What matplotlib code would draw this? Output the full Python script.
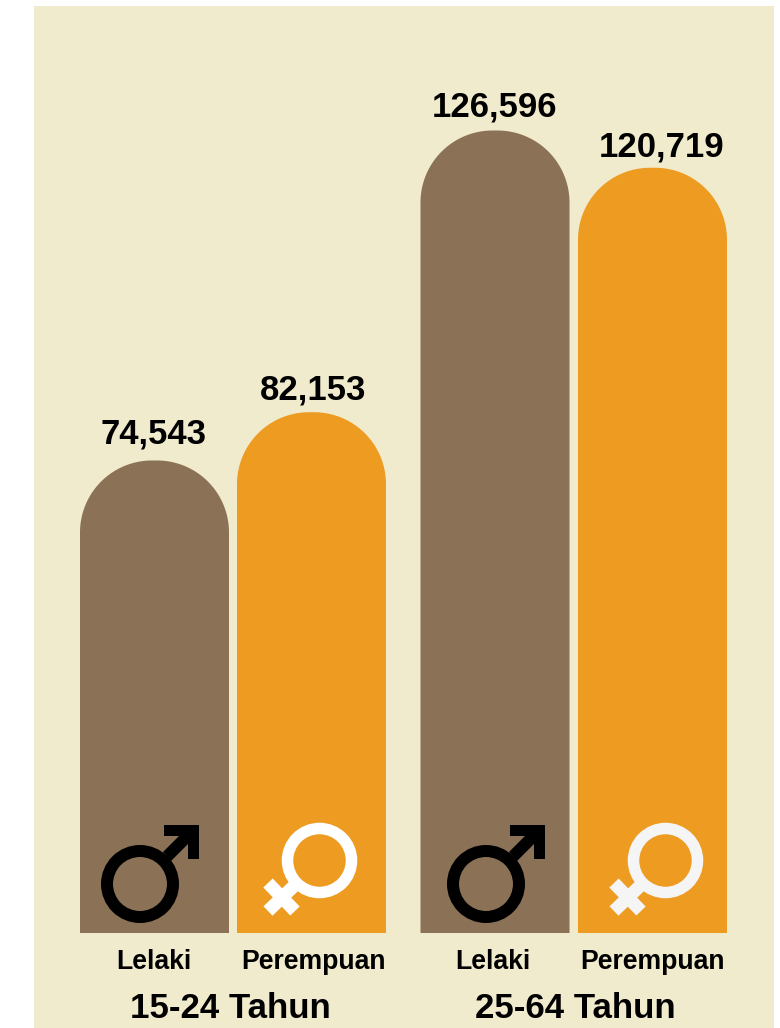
import numpy as np
import matplotlib
matplotlib.use('Agg')
import matplotlib.pyplot as plt
from matplotlib.patches import Circle, PathPatch, Polygon, Rectangle
from matplotlib.path import Path

# ========== data ==========
groups = ['15-24 Tahun', '25-64 Tahun']
categories = ['Lelaki', 'Perempuan', 'Lelaki', 'Perempuan']
values = [74543, 82153, 126596, 120719]
value_labels = ['74,543', '82,153', '126,596', '120,719']

# ========== layout (pixels) ==========
W, H = 780, 1028
bar_left = [80, 237, 420.5, 578]
bar_width = 149
base_px = 933
px_per_unit = 802.5 / 126596
radius = 72
bar_colors = ['#8b7155', '#ee9b22', '#8b7155', '#ee9b22']
label_x = [153.5, 313, 494, 662]
label_gap = [16.5, 12.5, 14, 11.5]
cat_x = [154, 313.5, 492.5, 652.5]
group_x = [230.5, 575.5]
icon_dx = [0, 346]
female_colors = ['#ffffff', '#f5f5f5']

plt.rcParams['font.family'] = ['Liberation Sans', 'DejaVu Sans']
plt.rcParams['font.weight'] = 'bold'

fig = plt.figure(figsize=(W / 100, H / 100), dpi=100, facecolor='white')

# overlay in pixel coords for the panel, text and icons
pix = fig.add_axes([0, 0, 1, 1], zorder=1)
pix.set_xlim(0, W)
pix.set_ylim(H, 0)
pix.axis('off')
pix.add_patch(Rectangle((34, 6), 740, 1022, color='#f1ebcd', lw=0))

# value axis, y=0 sits on the bar baseline
ax = fig.add_axes([0, 0, 1, 1], zorder=2)
ax.set_xlim(0, W)
ax.set_ylim(-(H - base_px) / px_per_unit, base_px / px_per_unit)
ax.axis('off')
ax.patch.set_alpha(0)


def round_top_bar(x0, w, val, r):
    ry = r / px_per_unit
    t = np.linspace(np.pi, np.pi / 2, 40)
    left_x = x0 + r + r * np.cos(t)
    left_y = val - ry + ry * np.sin(t)
    right_x = x0 + w - r - r * np.cos(t[::-1])
    right_y = val - ry + ry * np.sin(t[::-1])
    xs = np.concatenate([[x0], left_x, right_x, [x0 + w, x0]])
    ys = np.concatenate([[0], left_y, right_y, [0, 0]])
    return Path(np.column_stack([xs, ys]), closed=True)


for i in range(len(values)):
    ax.add_patch(PathPatch(round_top_bar(bar_left[i], bar_width, values[i], radius),
                           facecolor=bar_colors[i], edgecolor='none'))
    top_px = base_px - values[i] * px_per_unit
    pix.text(label_x[i], top_px - label_gap[i], value_labels[i], fontsize=25,
             ha='center', va='baseline', color='black', zorder=5)
    pix.text(cat_x[i], 969, categories[i], fontsize=19.2,
             ha='center', va='baseline', color='black', zorder=5)

for i in range(len(groups)):
    pix.text(group_x[i], 1018, groups[i], fontsize=25.1,
             ha='center', va='baseline', color='black', zorder=5)


# ========== gender icons ==========
icons = fig.add_axes([0, 0, 1, 1], zorder=3)
icons.set_xlim(0, W)
icons.set_ylim(H, 0)
icons.axis('off')
icons.patch.set_alpha(0)


def male_icon(dx):
    icons.add_patch(Circle((140 + dx, 884), 33, fill=False, ec='black', lw=12 * 0.72))
    icons.add_patch(Polygon([(164 + dx, 825), (199 + dx, 825), (199 + dx, 859), (188 + dx, 859),
                             (188 + dx, 844), (171 + dx, 861), (163 + dx, 852), (179 + dx, 836),
                             (164 + dx, 836)], closed=True, fc='black', ec='none'))


def female_icon(dx, color):
    icons.add_patch(Circle((319.5 + dx, 860.5), 32, fill=False, ec=color, lw=11.5 * 0.72))
    # cross below the ring
    icons.plot([268 + dx, 295 + dx], [883, 911], color=color, lw=13 * 0.72, solid_capstyle='butt')
    icons.plot([268 + dx, 296 + dx], [911, 884], color=color, lw=13 * 0.72, solid_capstyle='butt')


for k in range(2):
    male_icon(icon_dx[k])
    female_icon(icon_dx[k], female_colors[k])

icons.set_xlim(0, W)
icons.set_ylim(H, 0)

fig.savefig('out.png', dpi=100)
